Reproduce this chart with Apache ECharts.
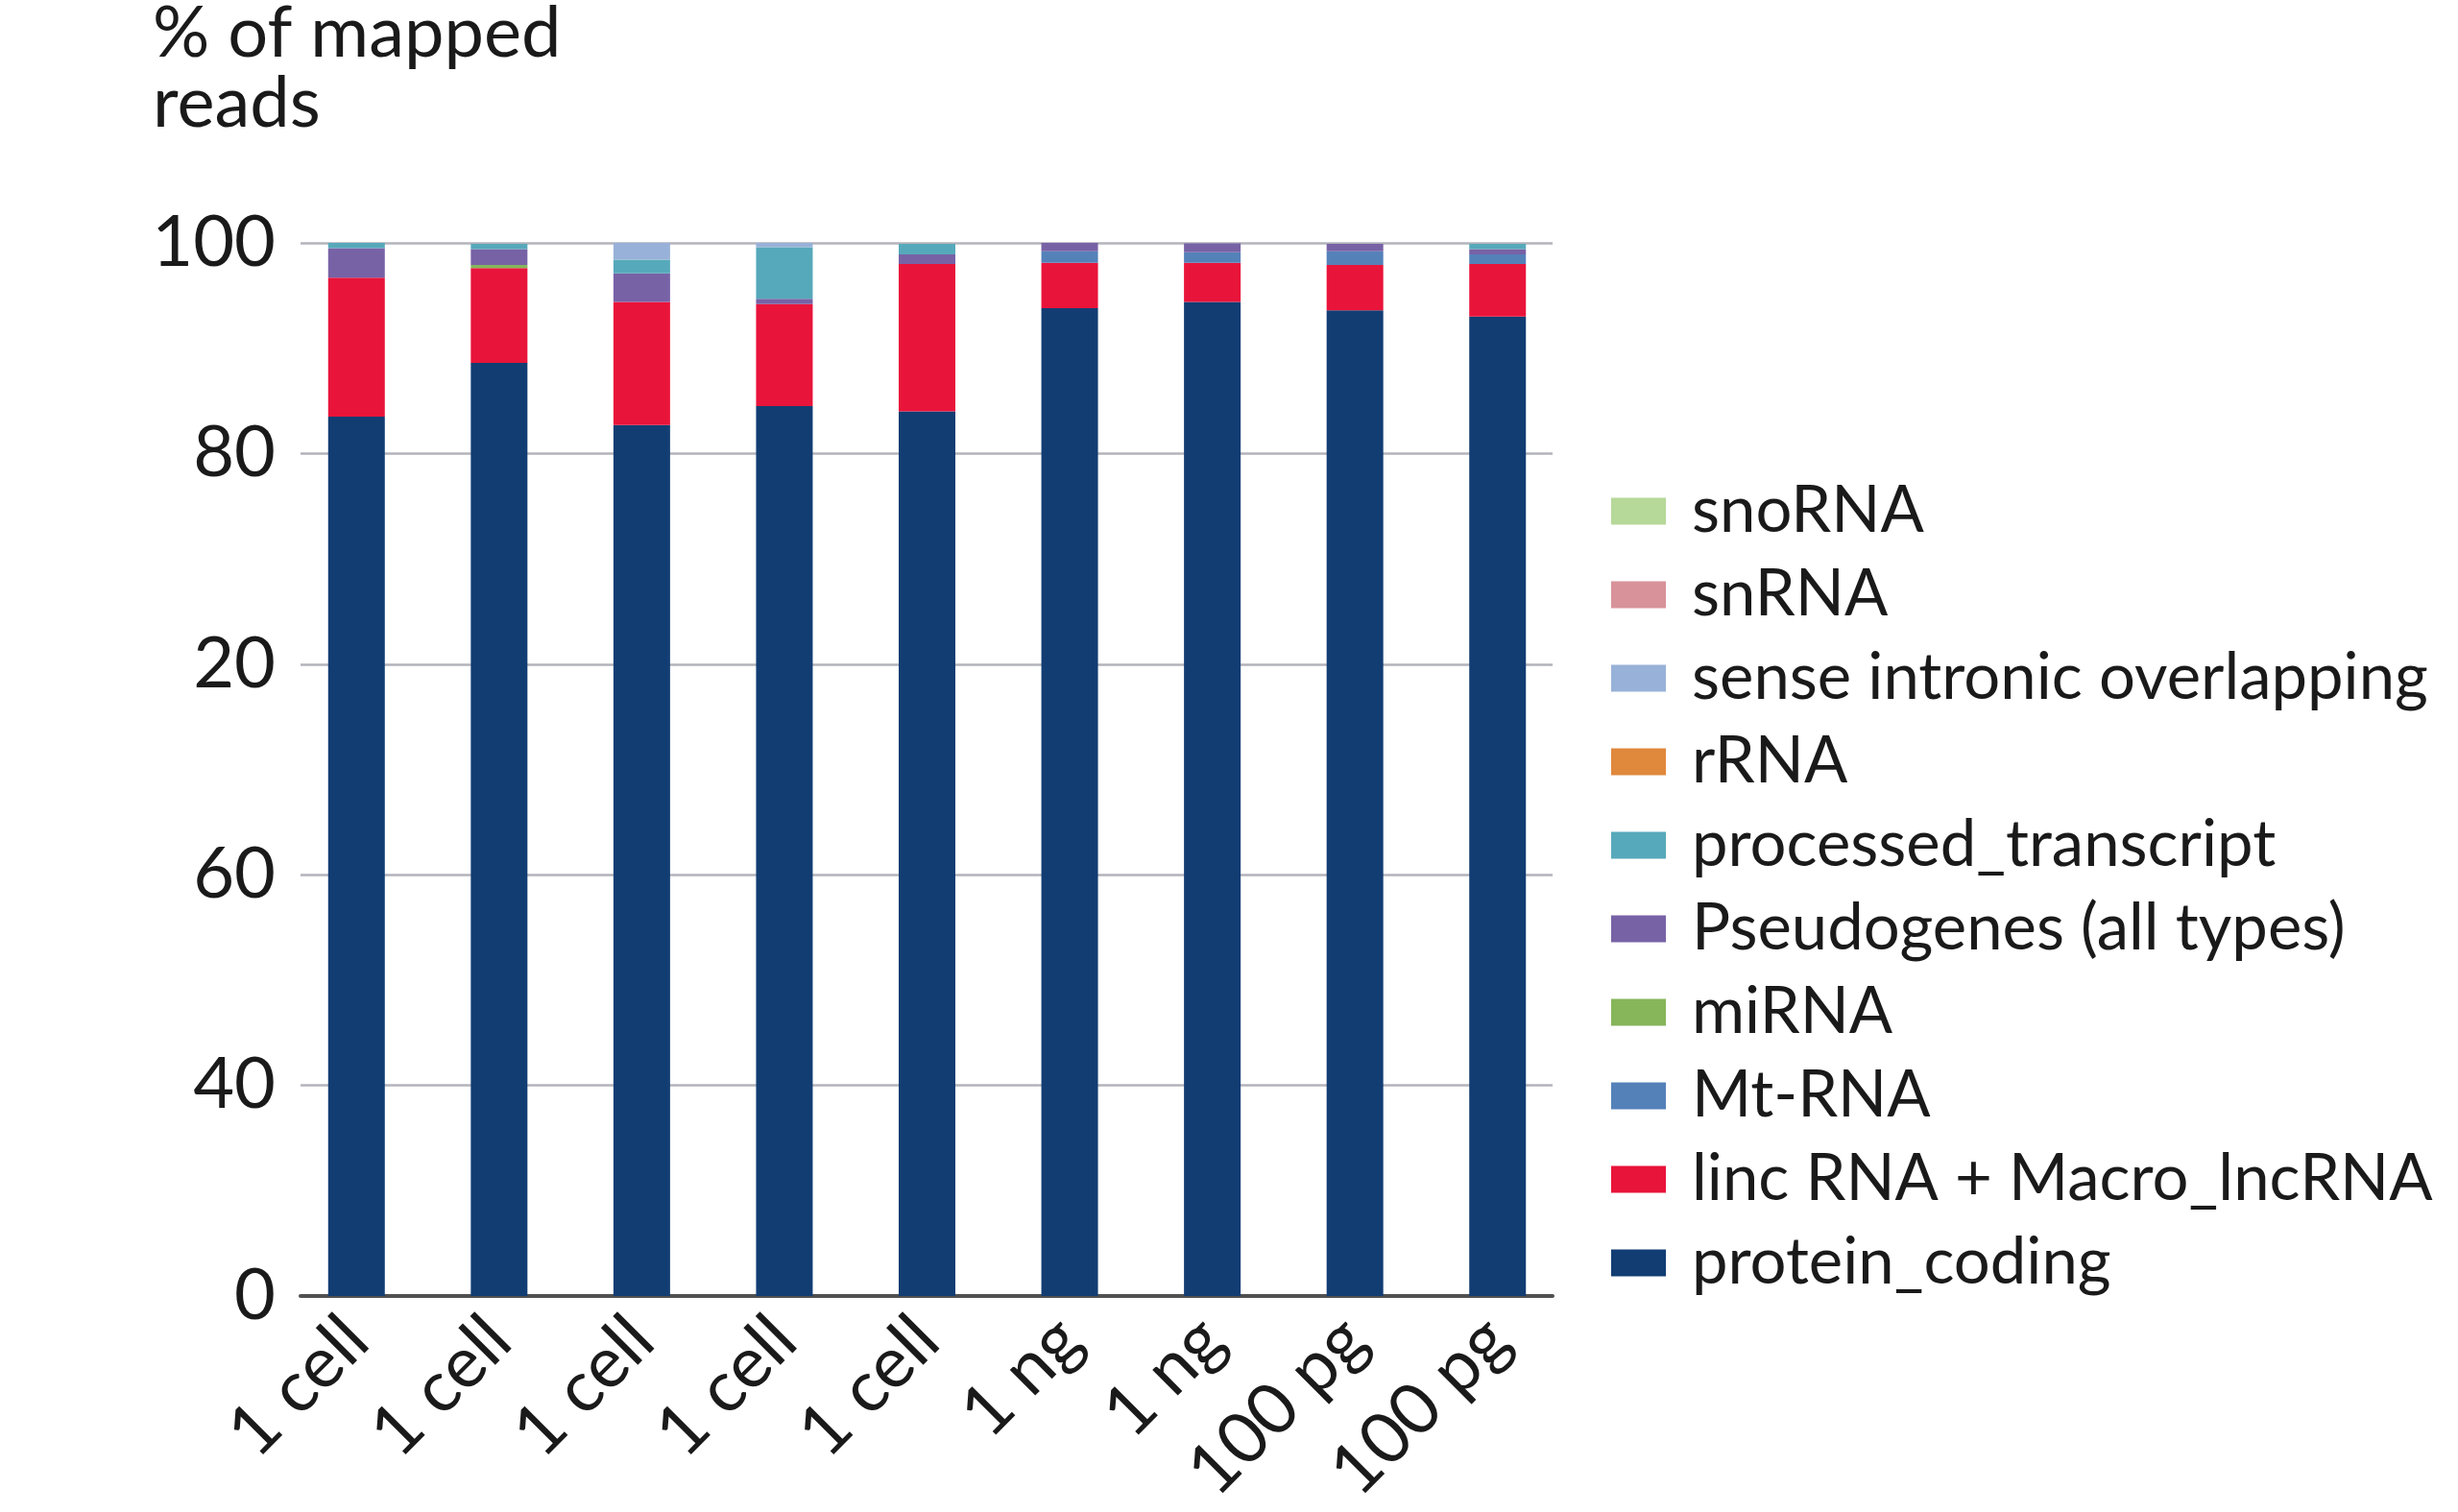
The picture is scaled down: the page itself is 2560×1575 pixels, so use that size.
<!DOCTYPE html>
<html>
<head>
<meta charset="utf-8">
<script src="https://cdn.jsdelivr.net/npm/echarts@6/dist/echarts.min.js"></script>
<style>
html,body{margin:0;padding:0;background:#fff;}
#chart{width:2560px;height:1575px;}
</style>
</head>
<body>
<div id="chart"></div>
<script>
const categories = ['1 cell','1 cell','1 cell','1 cell','1 cell','1 ng','1 ng','100 pg','100 pg'];
const yTickLabels = ['0','40','60','20','80','100'];

const proteinCoding = [83.5, 88.6, 82.7, 84.5, 84.0, 93.8, 94.4, 93.6, 93.0];
const lincRNA       = [13.2,  9.0, 11.7,  9.7, 14.0,  4.3,  3.7,  4.3,  5.0];
const mtRNA         = [0, 0, 0, 0, 0, 1.1, 1.0, 1.3, 0.9];
const miRNA         = [0, 0.3, 0, 0, 0, 0, 0, 0, 0];
const pseudogenes   = [2.8, 1.5, 2.7, 0.5, 0.9, 0.8, 0.85, 0.7, 0.5];
const processed     = [0.5, 0.5, 1.3, 4.9, 1.0, 0, 0, 0, 0.5];
const rRNA          = [0, 0, 0, 0, 0, 0, 0, 0, 0];
const senseIntronic = [0, 0, 1.6, 0.4, 0, 0, 0, 0, 0];
const snRNA         = [0, 0, 0, 0, 0, 0, 0, 0, 0];
const snoRNA        = [0, 0, 0, 0, 0, 0, 0, 0, 0];

const seriesDefs = [
  ['protein_coding', proteinCoding, '#123d73'],
  ['linc RNA + Macro_lncRNA', lincRNA, '#e9143a'],
  ['Mt-RNA', mtRNA, '#5581b9'],
  ['miRNA', miRNA, '#86b55a'],
  ['Pseudogenes (all types)', pseudogenes, '#7762a6'],
  ['processed_transcript', processed, '#56a9ba'],
  ['rRNA', rRNA, '#e0883c'],
  ['sense intronic overlapping', senseIntronic, '#98b1d8'],
  ['snRNA', snRNA, '#d8929a'],
  ['snoRNA', snoRNA, '#b6d899']
];

const FONT = 'Lato';
const chart = echarts.init(document.getElementById('chart'));
chart.setOption({
  backgroundColor: '#ffffff',
  animation: false,
  title: {
    text: '% of mapped\nreads',
    left: 154, top: -6,
    textStyle: {fontFamily: FONT, fontSize: 74, fontWeight: 'normal', color: '#1a1a1a', lineHeight: 73}
  },
  legend: {
    orient: 'vertical',
    left: 1673, top: 494,
    itemWidth: 57, itemHeight: 28, itemGap: 20,
    icon: 'rect',
    data: seriesDefs.map(d => d[0]).reverse(),
    textStyle: {fontFamily: FONT, fontSize: 67, color: '#1a1a1a', padding: [0, 0, 0, 22]}
  },
  grid: [
    {left: 297, top: 253, width: 1337, height: 1097},
    {left: 313, top: 253, width: 1304, height: 1097}
  ],
  xAxis: [
    {
      gridIndex: 0, type: 'category', data: categories,
      axisLine: {show: false}, axisTick: {show: false},
      axisLabel: {rotate: 45, margin: 34, fontFamily: FONT, fontSize: 74, color: '#1a1a1a', interval: 0}
    },
    {
      gridIndex: 1, type: 'value', min: 0, max: 1, show: true,
      axisLine: {show: true, lineStyle: {color: '#505050', width: 4}},
      axisTick: {show: false}, axisLabel: {show: false}, splitLine: {show: false}
    }
  ],
  yAxis: [
    {gridIndex: 0, type: 'value', min: 0, max: 100, show: false, splitLine: {show: false}},
    {
      gridIndex: 1, type: 'value', min: 0, max: 100, interval: 20,
      axisLine: {show: false}, axisTick: {show: false},
      splitLine: {show: true, lineStyle: {color: '#b3b3bb', width: 2.5}},
      axisLabel: {
        margin: 26, fontFamily: FONT, fontSize: 74, color: '#1a1a1a',
        formatter: v => yTickLabels[Math.round(v / 20)]
      }
    }
  ],
  series: seriesDefs.map(d => ({
    name: d[0], type: 'bar', stack: 'total',
    xAxisIndex: 0, yAxisIndex: 0,
    barWidth: 59,
    itemStyle: {color: d[2]},
    data: d[1]
  }))
});
</script>
</body>
</html>
